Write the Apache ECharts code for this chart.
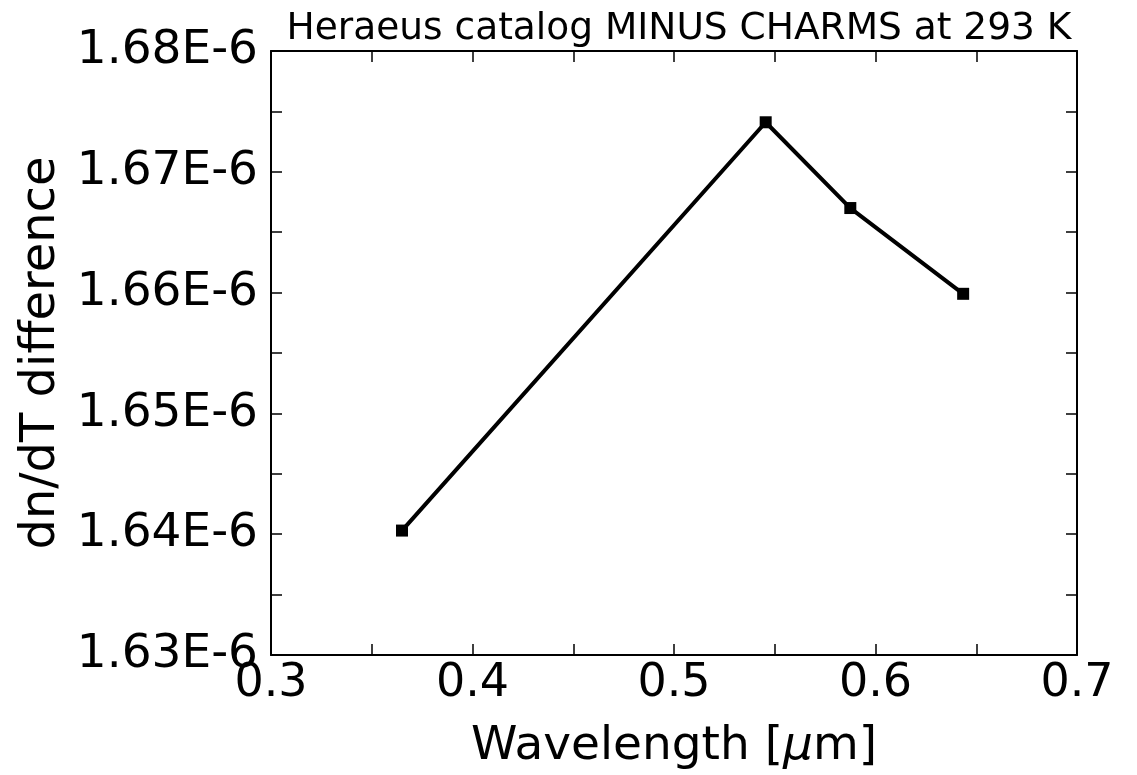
<!DOCTYPE html>
<html>
<head>
<meta charset="utf-8">
<script src="https://cdn.jsdelivr.net/npm/echarts@6/dist/echarts.min.js"></script>
<style>
html,body{margin:0;padding:0;background:#fff;}
#chart{width:1137px;height:775px;}
</style>
</head>
<body>
<div id="chart"></div>
<script>
// Wavelengths in micrometres
const wavelengths = [0.3650, 0.5455, 0.5875, 0.6435];
// dn/dT difference, in units of 1E-6
const dndtDiff = [1.6403, 1.6741, 1.6670, 1.6599];
const titleText = 'Heraeus catalog MINUS CHARMS at 293 K';
const xName = '{n|Wavelength [}{m|\u03bc}{n|m]}';
const yName = 'dn/dT difference';
const xRange = [0.3, 0.7];
const yRange = [1.63, 1.68];

const FONT = 'DejaVu Sans';
const chart = echarts.init(document.getElementById('chart'), null, {renderer: 'canvas'});

function isMult(v, step) {
  const r = v / step;
  return Math.abs(r - Math.round(r)) < 1e-6;
}

const axisLineStyle = {show: true, lineStyle: {color: '#000', width: 2}};
const tickStyle = {show: true, inside: true, length: 11, lineStyle: {color: '#000', width: 1.5}};

chart.setOption({
  animation: false,
  backgroundColor: '#fff',
  title: {
    text: titleText,
    left: 674, textAlign: 'center',
    top: 5,
    textStyle: {fontFamily: FONT, fontSize: 37.5, fontWeight: 'normal', color: '#000'}
  },
  grid: {left: 271, top: 51, right: 60, bottom: 119, containLabel: false},
  xAxis: [{
    type: 'value', min: xRange[0], max: xRange[1], interval: 0.05,
    position: 'bottom',
    name: xName, nameLocation: 'middle', nameGap: 68,
    nameTextStyle: {
      fontFamily: FONT, fontSize: 47, color: '#000',
      rich: {
        n: {fontFamily: FONT, fontSize: 47, color: '#000'},
        m: {fontFamily: FONT, fontSize: 47, color: '#000', fontStyle: 'italic'}
      }
    },
    axisLine: axisLineStyle, axisTick: tickStyle, splitLine: {show: false},
    axisLabel: {
      fontFamily: FONT, fontSize: 46, color: '#000', margin: 6,
      formatter: v => isMult(v, 0.1) ? v.toFixed(1) : ''
    }
  }, {
    type: 'value', min: xRange[0], max: xRange[1], interval: 0.05,
    position: 'top',
    axisLine: axisLineStyle, axisTick: tickStyle, splitLine: {show: false},
    axisLabel: {show: false}
  }],
  yAxis: [{
    type: 'value', min: yRange[0], max: yRange[1], interval: 0.005,
    position: 'left',
    name: yName, nameLocation: 'middle', nameGap: 202,
    nameTextStyle: {fontFamily: FONT, fontSize: 48, color: '#000'},
    axisLine: axisLineStyle, axisTick: tickStyle, splitLine: {show: false},
    axisLabel: {
      fontFamily: FONT, fontSize: 47, color: '#000', margin: 13,
      formatter: v => isMult(v, 0.01) ? v.toFixed(2) + 'E-6' : ''
    }
  }, {
    type: 'value', min: yRange[0], max: yRange[1], interval: 0.005,
    position: 'right',
    axisLine: axisLineStyle, axisTick: tickStyle, splitLine: {show: false},
    axisLabel: {show: false}
  }],
  series: [{
    type: 'line',
    xAxisIndex: 0, yAxisIndex: 0,
    data: wavelengths.map((x, i) => [x, dndtDiff[i]]),
    symbol: 'rect', symbolSize: 12,
    showAllSymbol: true,
    lineStyle: {color: '#000', width: 4},
    itemStyle: {color: '#000', borderWidth: 0},
    z: 5
  }]
});
</script>
</body>
</html>
